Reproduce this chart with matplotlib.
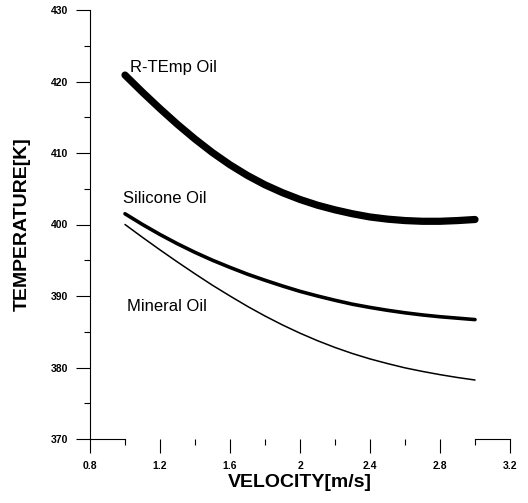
import matplotlib
matplotlib.use('Agg')
import matplotlib.pyplot as plt
from matplotlib.ticker import MultipleLocator, FixedLocator

plt.rcParams['font.family'] = ['Liberation Sans', 'DejaVu Sans']

# values
velocity = [1.0, 1.1, 1.2, 1.3, 1.4, 1.5, 1.6, 1.7, 1.8, 1.9, 2.0,
            2.1, 2.2, 2.3, 2.4, 2.5, 2.6, 2.7, 2.8, 2.9, 3.0]
rtemp_oil = [420.9, 418.5, 416.2, 414.0, 411.95, 410.05, 408.35, 406.85, 405.55, 404.45, 403.5,
             402.7, 402.05, 401.5, 401.05, 400.75, 400.55, 400.45, 400.45, 400.55, 400.7]
silicone_oil = [401.5, 400.0, 398.6, 397.3, 396.1, 395.0, 394.0, 393.05, 392.2, 391.4, 390.65,
                390.0, 389.4, 388.85, 388.4, 388.0, 387.65, 387.35, 387.1, 386.9, 386.7]
mineral_oil = [400.0, 398.2, 396.45, 394.75, 393.1, 391.5, 390.0, 388.55, 387.2, 385.95, 384.8,
               383.75, 382.8, 381.95, 381.2, 380.55, 379.95, 379.45, 379.0, 378.6, 378.25]

xticks = [0.8, 1.2, 1.6, 2.0, 2.4, 2.8, 3.2]
xtick_labels = ['0.8', '1.2', '1.6', '2', '2.4', '2.8', '3.2']
xminor = [1.0, 1.4, 1.8, 2.2, 2.6, 3.0]
yticks = [370, 380, 390, 400, 410, 420, 430]

fig = plt.figure(figsize=(5.28, 5.03), dpi=100)
ax = fig.add_axes([90 / 528, 64 / 503, 420 / 528, 429 / 503])

ax.plot(velocity, rtemp_oil, color='black', lw=5.2, solid_capstyle='round')
ax.plot(velocity, silicone_oil, color='black', lw=2.6, solid_capstyle='round')
ax.plot(velocity, mineral_oil, color='black', lw=1.1, solid_capstyle='round')

ax.text(1.03, 421.9, 'R-TEmp Oil', fontsize=12, va='center', ha='left')
ax.text(0.99, 403.7, 'Silicone Oil', fontsize=12, va='center', ha='left')
ax.text(1.01, 388.5, 'Mineral Oil', fontsize=12, va='center', ha='left')

ax.set_xlim(0.8, 3.2)
ax.set_ylim(370, 430)
ax.set_xticks(xticks)
ax.set_xticklabels(xtick_labels)
ax.set_yticks(yticks)
ax.xaxis.set_minor_locator(FixedLocator(xminor))
ax.yaxis.set_minor_locator(MultipleLocator(5))

ax.tick_params(axis='both', which='major', direction='out', length=10, width=0.8,
               labelsize=7.5, pad=6)
ax.tick_params(axis='both', which='minor', direction='out', length=4, width=0.8)
for lab in ax.get_xticklabels() + ax.get_yticklabels():
    lab.set_fontweight('bold')

ax.spines['top'].set_visible(False)
ax.spines['right'].set_visible(False)
ax.spines['bottom'].set_visible(False)
ax.spines['left'].set_linewidth(0.8)

# the x axis line only shows at both ends in the scan
tr = ax.get_xaxis_transform()
ax.plot([0.8, 1.0], [0, 0], color='black', lw=0.8, transform=tr, clip_on=False)
ax.plot([3.0, 3.2], [0, 0], color='black', lw=0.8, transform=tr, clip_on=False)

ax.set_xlabel('VELOCITY[m/s]', fontsize=14, fontweight='bold', labelpad=2)
ax.set_ylabel('TEMPERATURE[K]', fontsize=14, fontweight='bold', labelpad=14)

fig.savefig('out.png', dpi=100)
